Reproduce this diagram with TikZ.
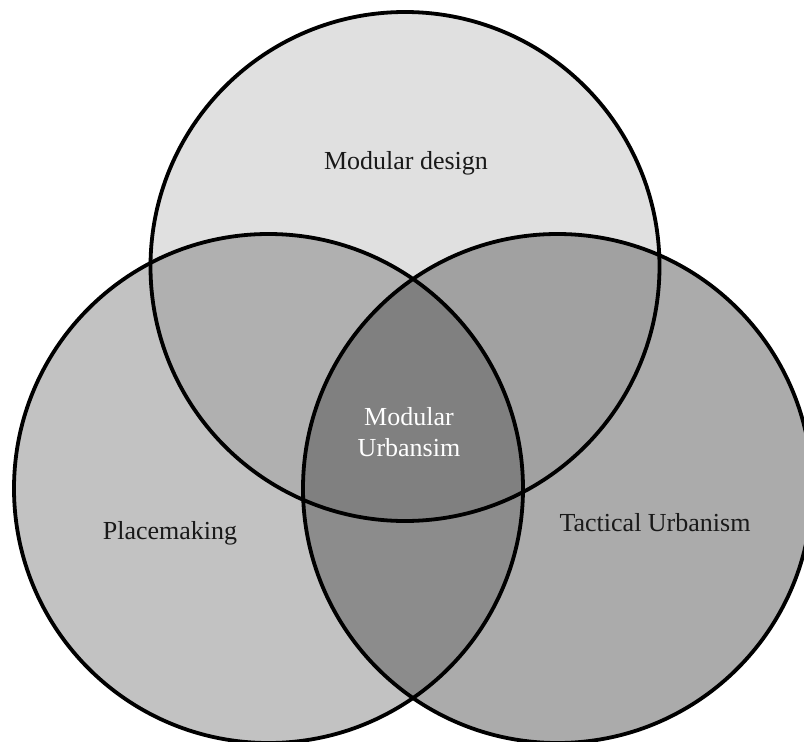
\documentclass[tikz,border=0pt]{standalone}
\usepackage{fontspec}
\setmainfont{Liberation Serif}
\begin{document}
\begin{tikzpicture}[x=1pt,y=-1pt,
  ring/.style={draw=black,line width=3.8pt},
  lbl/.style={font=\fontsize{26}{31}\selectfont,text=black!90,align=center}]
\useasboundingbox (0,0) rectangle (804,742);
% circle centres and radius
\coordinate (cT) at (405,266.5);
\coordinate (cL) at (268.5,488.5);
\coordinate (cR) at (557.5,488.5);
\def\rad{254.5}
% single-set fills
\fill[black!12] (cT) circle (\rad);
\fill[black!24] (cL) circle (\rad);
\fill[black!33] (cR) circle (\rad);
% pairwise overlaps
\begin{scope}
  \clip (cT) circle (\rad);
  \fill[black!31] (cL) circle (\rad);
  \fill[black!37] (cR) circle (\rad);
\end{scope}
\begin{scope}
  \clip (cL) circle (\rad);
  \fill[black!45] (cR) circle (\rad);
\end{scope}
% triple overlap
\begin{scope}
  \clip (cT) circle (\rad);
  \clip (cL) circle (\rad);
  \fill[black!50] (cR) circle (\rad);
\end{scope}
% outlines
\draw[ring] (cT) circle (\rad);
\draw[ring] (cL) circle (\rad);
\draw[ring] (cR) circle (\rad);
% labels
\node[lbl] (tMod) at (406,163) {Modular design};
\node[lbl] (tPlace) at (170,533) {Placemaking};
\node[lbl] (tTact) at (655,523) {Tactical Urbanism};
\node[lbl,text=white] (tCore) at (409,432) {Modular\\Urbansim};
\end{tikzpicture}
\end{document}
